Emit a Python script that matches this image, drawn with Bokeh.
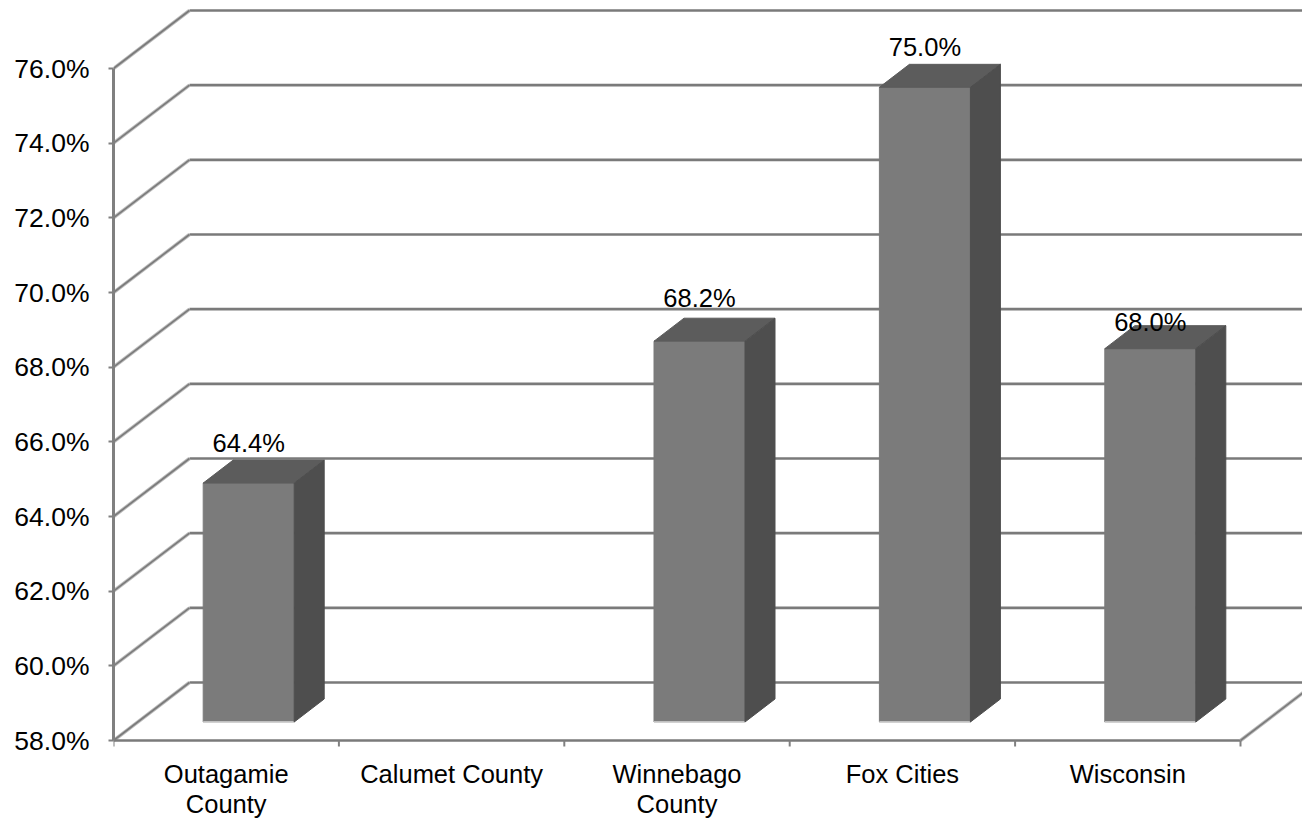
from bokeh.plotting import figure
from bokeh.models import Range1d, LinearAxis, FixedTicker, PrintfTickFormatter, ColumnDataSource
from bokeh.embed import file_html
from bokeh.resources import INLINE
from bokeh.core.properties import value

# ---------------- data ----------------
categories = ["Outagamie\nCounty", "Calumet County", "Winnebago\nCounty", "Fox Cities", "Wisconsin"]
values = [64.4, None, 68.2, 75.0, 68.0]
value_labels = ["64.4%", "", "68.2%", "75.0%", "68.0%"]
y_ticks = [58, 60, 62, 64, 66, 68, 70, 72, 74, 76]

# ---------------- layout (pixels) ----------------
W, H = 1302, 819
LEFT = 113                      # frame left inside figure
PX_CAT = (1240 - 113) / 5.0     # px per category
PX_PCT = (740 - 68) / 18.0      # px per percent
FLOOR_Y = 740                   # y of 58% front floor inside figure (from top)
Y0 = y_ticks[0]
Y1 = y_ticks[-1]

x_end = (W - LEFT) / PX_CAT
y_start = Y0 - (H - FLOOR_Y) / PX_PCT
y_end = Y0 + FLOOR_Y / PX_PCT

def dxp(px):
    return px / PX_CAT

def dyp(px):
    return px / PX_PCT

WALL_DX, WALL_DY = dxp(76), dyp(58)
BAR_FDX, BAR_FDY = dxp(22.5), dyp(18.5)
BAR_DDX, BAR_DDY = dxp(30), dyp(23)
BAR_W = dxp(91)
LABEL_BASE_PX = -17
LABEL_NUDGE_PX = [0, -3, -3, 0, 13]

GRID = "#7a7a7a"
FONT = "Liberation Sans"
FS = "25.5px"

p = figure(width=W, height=H, x_range=Range1d(0, x_end), y_range=Range1d(y_start, y_end),
           x_axis_location=None, y_axis_location=None,
           output_backend="svg", toolbar_location=None,
           min_border_left=LEFT, min_border_right=0, min_border_top=0, min_border_bottom=0)
p.outline_line_color = None
p.grid.grid_line_color = None
p.background_fill_color = "white"
p.border_fill_color = "white"

# y axis
yax = LinearAxis(ticker=FixedTicker(ticks=y_ticks, minor_ticks=[]), bounds=(Y0, Y1),
                 formatter=PrintfTickFormatter(format="%.1f%%"))
yax.axis_line_color = "#808080"
yax.axis_line_width = 3
yax.major_tick_line_color = "#808080"
yax.major_tick_line_width = 2
yax.major_tick_out = 5
yax.major_tick_in = 0
yax.minor_tick_line_color = None
yax.major_label_text_font = FONT
yax.major_label_text_font_size = "26.5px"
yax.major_label_text_color = "black"
yax.major_label_standoff = 19
p.add_layout(yax, "left")

n = len(categories)

# back wall gridlines
p.segment(x0=[WALL_DX] * len(y_ticks), y0=[t + WALL_DY for t in y_ticks],
          x1=[n + WALL_DX] * len(y_ticks), y1=[t + WALL_DY for t in y_ticks],
          line_color=GRID, line_width=2.6)
# left wall diagonals
p.segment(x0=[0] * len(y_ticks), y0=y_ticks,
          x1=[WALL_DX] * len(y_ticks), y1=[t + WALL_DY for t in y_ticks],
          line_color="#bcbcbc", line_width=3.5)
p.segment(x0=[0] * len(y_ticks), y0=y_ticks,
          x1=[WALL_DX] * len(y_ticks), y1=[t + WALL_DY for t in y_ticks],
          line_color="#7a7a7a", line_width=1.6)
# floor: front edge, right diagonal
p.segment(x0=[0], y0=[Y0], x1=[n], y1=[Y0], line_color=GRID, line_width=2.6)
p.segment(x0=[n], y0=[Y0], x1=[n + WALL_DX], y1=[Y0 + WALL_DY],
          line_color="#bcbcbc", line_width=3.5)
p.segment(x0=[n], y0=[Y0], x1=[n + WALL_DX], y1=[Y0 + WALL_DY],
          line_color="#7a7a7a", line_width=1.6)
# x ticks at category boundaries
bx = list(range(n + 1))
p.segment(x0=bx, y0=[Y0] * len(bx), x1=bx, y1=[Y0 - dyp(6)] * len(bx),
          line_color="#808080", line_width=2)

# bars
front = dict(l=[], r=[], b=[], t=[])
top_xs, top_ys, side_xs, side_ys = [], [], [], []
lab_x, lab_y, lab_t, lab_off = [], [], [], []
for i, v in enumerate(values):
    if v is None:
        continue
    L = i + 0.5 - BAR_W / 2 + BAR_FDX
    R = L + BAR_W
    B = Y0 + BAR_FDY
    T = v + BAR_FDY
    front["l"].append(L); front["r"].append(R); front["b"].append(B); front["t"].append(T)
    top_xs.append([L, R, R + BAR_DDX, L + BAR_DDX])
    top_ys.append([T, T, T + BAR_DDY, T + BAR_DDY])
    side_xs.append([R, R + BAR_DDX, R + BAR_DDX, R])
    side_ys.append([B, B + BAR_DDY, T + BAR_DDY, T])
    lab_x.append(i + 0.5 + BAR_FDX)
    lab_y.append(T + BAR_DDY)
    lab_t.append(value_labels[i])
    lab_off.append(LABEL_BASE_PX + LABEL_NUDGE_PX[i])

p.quad(left=front["l"], right=front["r"], bottom=front["b"], top=front["t"],
       fill_color="#7b7b7b", line_color="#7b7b7b", line_width=1)
p.segment(x0=front["l"], y0=front["b"], x1=front["r"], y1=front["b"],
          line_color="#d8d8d8", line_width=1.5)
p.patches(xs=top_xs, ys=top_ys, fill_color="#5c5c5c", line_color="#5c5c5c", line_width=1)
p.patches(xs=side_xs, ys=side_ys, fill_color="#4e4e4e", line_color="#4e4e4e", line_width=1)

# value labels
src = ColumnDataSource(dict(x=lab_x, y=lab_y, t=lab_t, off=lab_off))
p.text(x="x", y="y", text="t", y_offset="off", source=src,
       text_font=value(FONT), text_font_size=FS, text_color="black",
       text_align="center", text_baseline="alphabetic")

# category labels
cat_x = [i + 0.5 for i in range(n)]
cat_y = [Y0] * n
p.text(x=cat_x, y=cat_y, text=categories, y_offset=[19] * n,
       text_font=value(FONT), text_font_size=FS, text_color="black",
       text_align="center", text_baseline="top", text_line_height=1.08)

open("out.html", "w").write(file_html(p, INLINE))
